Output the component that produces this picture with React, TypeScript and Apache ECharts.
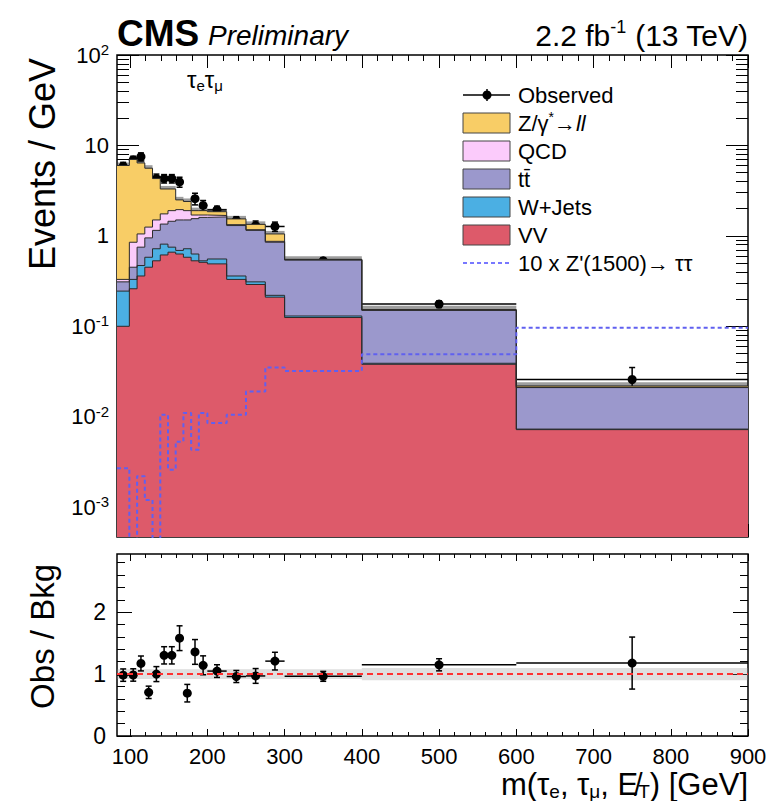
import React, { useEffect, useRef } from 'react';
import * as echarts from 'echarts';

const FONT = '"Liberation Sans", Arial, Helvetica, sans-serif';

// ---- data ----
const binEdges = [83, 99, 109, 119, 129, 139, 149, 159, 169, 179, 189, 200, 225, 250, 275, 300, 400, 600, 900];
const vv = [0.1, 0.26, 0.36, 0.45, 0.53, 0.615, 0.66, 0.63, 0.58, 0.53, 0.51, 0.49, 0.33, 0.29, 0.21, 0.125, 0.038, 0.0072];
const wjets = [0.145, 0.07, 0.11, 0.13, 0.19, 0.195, 0.09, 0.06, 0.14, 0.1, 0.02, 0.065, 0.03, 0.02, 0.01, 0.005, 0.001, 0.0001];
const ttbar = [0.065, 0.12, 0.28, 0.37, 0.43, 0.54, 0.7, 0.81, 0.78, 0.92, 1.07, 1.065, 0.94, 0.84, 0.63, 0.41, 0.111, 0.0137];
const qcd = [0.02, 0.4, 0.3, 0.3, 0.35, 0.4, 0.45, 0.45, 0.4, 0.15, 0.1, 0.06, 0.03, 0.02, 0.02, 0.005, 0.001, 0.0002];
const dyll = [5.67, 6.15, 5.35, 4.35, 2.8, 1.55, 1.4, 0.55, 0.5, 0.2, 0.2, 0.17, 0.21, 0.17, 0.18, 0.005, 0.002, 0.0007];
const observed = [5.9, 6.9, 7.5, 3.95, 4.3, 4.3, 4.3, 3.95, 1.66, 2.58, 2.17, 1.94, 1.48, 1.3, 1.27, 0.53, 0.176, 0.0258];
const observedErr = [0.6, 0.7, 0.77, 0.56, 0.52, 0.46, 0.46, 0.5, 0.34, 0.38, 0.29, 0.19, 0.15, 0.16, 0.15, 0.044, 0.015, 0.0092];
const signalZp = [0.0027, 0, 0.0022, 0.0012, 0, 0.0105, 0.0026, 0.0053, 0.011, 0.0043, 0.011, 0.0085, 0.0105, 0.019, 0.035, 0.032, 0.049, 0.0966];
const bkgRelUnc = [0.08, 0.08, 0.08, 0.08, 0.08, 0.08, 0.08, 0.08, 0.08, 0.08, 0.08, 0.08, 0.08, 0.08, 0.08, 0.08, 0.1, 0.1];
const refLine = [1, 1];

const xTickLabels = [100, 200, 300, 400, 500, 600, 700, 800, 900];
const logTickLabels = [-3, -2, -1, 0, 1, 2];
const ratioTickLabels = [0, 1, 2];

const X_MIN = 83;
const X_MAX = 900;
const LOG_MIN = -3.33;
const LOG_MAX = 2;
const R_MIN = 0;
const R_MAX = 2.94;

const COLORS = {
  dy: '#F8CD66',
  qcd: '#FBCBFB',
  tt: '#9B98CC',
  w: '#4BAFE3',
  vv: '#DD5A6A',
  sig: '#6060F0',
};

const lg = (v: number) => (v > 0 ? Math.log10(v) : -6);
const nBins = binEdges.length - 1;

function cumulative(...layers: number[][]) {
  return layers[0].map((_, i) => layers.reduce((s, l) => s + l[i], 0));
}
const cVV = cumulative(vv);
const cW = cumulative(vv, wjets);
const cTT = cumulative(vv, wjets, ttbar);
const cQCD = cumulative(vv, wjets, ttbar, qcd);
const total = cumulative(vv, wjets, ttbar, qcd, dyll);

const stepData = (vals: number[]) =>
  binEdges.map((e, i) => [e, lg(vals[Math.min(i, vals.length - 1)])]);

function areaSeries(name: string, vals: number[], color: string) {
  return {
    type: 'line',
    name,
    xAxisIndex: 0,
    yAxisIndex: 0,
    step: 'end',
    symbol: 'none',
    data: stepData(vals),
    lineStyle: { color: '#2a2a2a', width: 1 },
    areaStyle: { color, opacity: 1, origin: 'start' },
    clip: true,
    silent: true,
  };
}

const bandRender = (fill: string) => (params: any, api: any) => {
  const p0 = api.coord([api.value(0), api.value(3)]);
  const p1 = api.coord([api.value(1), api.value(2)]);
  return {
    type: 'rect',
    shape: { x: p0[0], y: p0[1], width: p1[0] - p0[0], height: p1[1] - p0[1] },
    style: { fill },
  };
};

const pointRender = (params: any, api: any) => {
  const pL = api.coord([api.value(0), api.value(3)]);
  const pR = api.coord([api.value(1), api.value(3)]);
  const pC = api.coord([api.value(2), api.value(3)]);
  const pLo = api.coord([api.value(2), api.value(4)]);
  const pHi = api.coord([api.value(2), api.value(5)]);
  const st = { stroke: '#000', lineWidth: 1.5 };
  return {
    type: 'group',
    children: [
      { type: 'line', shape: { x1: pL[0], y1: pL[1], x2: pR[0], y2: pR[1] }, style: st },
      { type: 'line', shape: { x1: pC[0], y1: pLo[1], x2: pC[0], y2: pHi[1] }, style: st },
      { type: 'line', shape: { x1: pC[0] - 3, y1: pLo[1], x2: pC[0] + 3, y2: pLo[1] }, style: st },
      { type: 'line', shape: { x1: pC[0] - 3, y1: pHi[1], x2: pC[0] + 3, y2: pHi[1] }, style: st },
      { type: 'circle', shape: { cx: pC[0], cy: pC[1], r: 4.5 }, style: { fill: '#000' } },
    ],
  };
};

const range = (a: number, b: number, step: number) => {
  const out: number[] = [];
  for (let v = a; v <= b + 1e-9; v += step) out.push(Math.round(v * 1000) / 1000);
  return out;
};

const xMinor = range(100, 900, 20);
const logMinor: number[] = [];
for (let d = -4; d <= 1; d++) for (let k = 2; k <= 9; k++) {
  const v = d + Math.log10(k);
  if (v > LOG_MIN && v < LOG_MAX) logMinor.push(v);
}
const ratioMinor = range(0.2, 2.8, 0.2);

function xAx(gridIndex: number, position: string, values: number[], length: number, label?: any) {
  return {
    type: 'value', gridIndex, position, min: X_MIN, max: X_MAX,
    axisLine: { show: false, onZero: false }, splitLine: { show: false },
    axisTick: { show: true, inside: true, length, customValues: values, lineStyle: { color: '#000', width: 1 } },
    axisLabel: label ? { ...label, customValues: xTickLabels } : { show: false },
  };
}
function yAx(gridIndex: number, position: string, min: number, max: number, values: number[], length: number, label?: any) {
  return {
    type: 'value', gridIndex, position, min, max,
    axisLine: { show: false, onZero: false }, splitLine: { show: false },
    axisTick: { show: true, inside: true, length, customValues: values, lineStyle: { color: '#000', width: 1 } },
    axisLabel: label ? label : { show: false },
  };
}

function buildOption() {
  const topLabel = {
    show: true,
    customValues: logTickLabels,
    margin: 8,
    color: '#000',
    fontFamily: FONT,
    formatter: (v: number) => (v === 0 ? '{b|1}' : v === 1 ? '{b|10}' : `{b|10}{s|${v}}`),
    rich: {
      b: { fontSize: 22, fontFamily: FONT, color: '#000', lineHeight: 26 },
      s: { fontSize: 15, fontFamily: FONT, color: '#000', lineHeight: 13, verticalAlign: 'top' },
    },
  };
  const ratioLabel = {
    show: true, customValues: ratioTickLabels, margin: 11, color: '#000', fontFamily: FONT, fontSize: 23,
  };
  const xLabel = { show: true, margin: 9, color: '#000', fontFamily: FONT, fontSize: 22 };

  const bandTop = binEdges.slice(0, nBins).map((e, i) => [
    e, binEdges[i + 1], lg(total[i] * (1 - bkgRelUnc[i])), lg(total[i] * (1 + bkgRelUnc[i])),
  ]);
  const bandRatio = binEdges.slice(0, nBins).map((e, i) => [e, binEdges[i + 1], 1 - bkgRelUnc[i], 1 + bkgRelUnc[i]]);
  const obsTop = observed.map((o, i) => [
    binEdges[i], binEdges[i + 1], (binEdges[i] + binEdges[i + 1]) / 2,
    lg(o), lg(o - observedErr[i]), lg(o + observedErr[i]),
  ]);
  const obsRatio = observed.map((o, i) => {
    const r = o / total[i];
    const re = observedErr[i] / total[i];
    return [binEdges[i], binEdges[i + 1], (binEdges[i] + binEdges[i + 1]) / 2, r, r - re, r + re];
  });

  const legendRows = [
    { y: 123, color: COLORS.dy, text: 'Z/γ{sup|*}→{it|ll}' },
    { y: 151, color: COLORS.qcd, text: 'QCD' },
    { y: 179, color: COLORS.tt, text: 'tt\u0304' },
    { y: 207, color: COLORS.w, text: 'W+Jets' },
    { y: 235, color: COLORS.vv, text: 'VV' },
  ];
  const legRich = {
    sup: { fontSize: 14, fontFamily: FONT, fill: '#000', lineHeight: 12, verticalAlign: 'top' },
    it: { fontSize: 22, fontFamily: FONT, fontStyle: 'italic', fill: '#000', lineHeight: 26 },
  };

  const graphic: any[] = [
    { type: 'text', x: 117, y: 33, style: { text: 'CMS', fontFamily: FONT, fontWeight: 'bold', fontSize: 37, fill: '#000', align: 'left', verticalAlign: 'middle' } },
    { type: 'text', x: 208, y: 35, style: { text: 'Preliminary', fontFamily: FONT, fontStyle: 'italic', fontSize: 28, fill: '#000', align: 'left', verticalAlign: 'middle' } },
    {
      type: 'text', x: 748, y: 35,
      style: {
        text: '2.2 fb{sup|-1} (13 TeV)', fontFamily: FONT, fontSize: 30, fill: '#000', align: 'right', verticalAlign: 'middle', lineHeight: 34,
        rich: { sup: { fontSize: 18, fontFamily: FONT, fill: '#000', lineHeight: 17, verticalAlign: 'top' } },
      },
    },
    {
      type: 'text', x: 187, y: 79,
      style: {
        text: 'τ{sub|e}τ{sub|μ}', fontFamily: FONT, fontSize: 24, fill: '#000', align: 'left', verticalAlign: 'middle', lineHeight: 28,
        rich: { sub: { fontSize: 15, fontFamily: FONT, fill: '#000', lineHeight: 12, verticalAlign: 'bottom' } },
      },
    },
    { type: 'text', x: 42, y: 58, rotation: Math.PI / 2, style: { text: 'Events / GeV', fontFamily: FONT, fontSize: 36, fill: '#000', align: 'right', verticalAlign: 'middle' } },
    { type: 'text', x: 42, y: 564, rotation: Math.PI / 2, style: { text: 'Obs / Bkg', fontFamily: FONT, fontSize: 33, fill: '#000', align: 'right', verticalAlign: 'middle' } },
    {
      type: 'text', x: 748, y: 784,
      style: {
        text: 'm(τ{sub|e}, τ{sub|μ}, E\u0338{sub|T}) [GeV]', fontFamily: FONT, fontSize: 31, fill: '#000', align: 'right', verticalAlign: 'middle', lineHeight: 34,
        rich: { sub: { fontSize: 19, fontFamily: FONT, fill: '#000', lineHeight: 15, verticalAlign: 'bottom' } },
      },
    },
    // legend: observed
    { type: 'line', shape: { x1: 463, y1: 95, x2: 510, y2: 95 }, style: { stroke: '#000', lineWidth: 1.5 } },
    { type: 'line', shape: { x1: 487, y1: 89, x2: 487, y2: 101 }, style: { stroke: '#000', lineWidth: 1.5 } },
    { type: 'circle', shape: { cx: 487, cy: 95, r: 4.5 }, style: { fill: '#000' } },
    { type: 'text', x: 518, y: 95, style: { text: 'Observed', fontFamily: FONT, fontSize: 22, fill: '#000', align: 'left', verticalAlign: 'middle' } },
    // legend: signal
    { type: 'line', shape: { x1: 463, y1: 263, x2: 510, y2: 263 }, style: { stroke: '#7878ff', lineWidth: 2, lineDash: [4, 3] } },
    { type: 'text', x: 518, y: 263, style: { text: "10 x Z'(1500)→ ττ", fontFamily: FONT, fontSize: 22, fill: '#000', align: 'left', verticalAlign: 'middle' } },
  ];
  legendRows.forEach((r) => {
    graphic.push({ type: 'rect', shape: { x: 463, y: r.y - 10, width: 47, height: 20 }, style: { fill: r.color, stroke: '#444', lineWidth: 1 } });
    graphic.push({
      type: 'text', x: 518, y: r.y,
      style: { text: r.text, fontFamily: FONT, fontSize: 22, fill: '#000', align: 'left', verticalAlign: 'middle', lineHeight: 26, rich: legRich },
    });
  });

  return {
    animation: false,
    backgroundColor: '#ffffff',
    grid: [
      { left: 117, right: 29, top: 55, height: 482, containLabel: false, outerBoundsMode: 'none', show: true, borderColor: '#000', borderWidth: 1.5, backgroundColor: 'transparent' },
      { left: 117, right: 29, top: 554, height: 182, containLabel: false, outerBoundsMode: 'none', show: true, borderColor: '#000', borderWidth: 1.5, backgroundColor: 'transparent' },
    ],
    xAxis: [
      xAx(0, 'bottom', xTickLabels, 13),
      xAx(0, 'bottom', xMinor, 6),
      xAx(0, 'top', xTickLabels, 13),
      xAx(0, 'top', xMinor, 6),
      xAx(1, 'bottom', xTickLabels, 7, xLabel),
      xAx(1, 'bottom', xMinor, 4),
      xAx(1, 'top', xTickLabels, 7),
      xAx(1, 'top', xMinor, 4),
    ],
    yAxis: [
      yAx(0, 'left', LOG_MIN, LOG_MAX, logTickLabels, 22, topLabel),
      yAx(0, 'left', LOG_MIN, LOG_MAX, logMinor, 12),
      yAx(0, 'right', LOG_MIN, LOG_MAX, logTickLabels, 22),
      yAx(0, 'right', LOG_MIN, LOG_MAX, logMinor, 12),
      yAx(1, 'left', R_MIN, R_MAX, ratioTickLabels, 15, ratioLabel),
      yAx(1, 'left', R_MIN, R_MAX, ratioMinor, 8),
      yAx(1, 'right', R_MIN, R_MAX, ratioTickLabels, 15),
      yAx(1, 'right', R_MIN, R_MAX, ratioMinor, 8),
    ],
    graphic,
    series: [
      areaSeries('Z/γ*→ll', total, COLORS.dy),
      areaSeries('QCD', cQCD, COLORS.qcd),
      areaSeries('tt', cTT, COLORS.tt),
      areaSeries('W+Jets', cW, COLORS.w),
      areaSeries('VV', cVV, COLORS.vv),
      {
        type: 'custom', name: 'bkg unc', xAxisIndex: 0, yAxisIndex: 0, clip: true, silent: true,
        renderItem: bandRender('rgba(40,40,40,0.45)'), encode: { x: [0, 1], y: [2, 3] }, data: bandTop,
      },
      {
        type: 'line', name: "10 x Z'(1500)", xAxisIndex: 0, yAxisIndex: 0, step: 'end', symbol: 'none', clip: true, silent: true,
        data: stepData(signalZp), lineStyle: { color: COLORS.sig, width: 2, type: [4, 3] },
      },
      {
        type: 'custom', name: 'Observed', xAxisIndex: 0, yAxisIndex: 0, clip: true, silent: true,
        renderItem: pointRender, encode: { x: [0, 1, 2], y: [3, 4, 5] }, data: obsTop,
      },
      {
        type: 'custom', name: 'ratio unc', xAxisIndex: 4, yAxisIndex: 4, clip: true, silent: true,
        renderItem: bandRender('rgba(150,150,150,0.3)'), encode: { x: [0, 1], y: [2, 3] }, data: bandRatio,
      },
      {
        type: 'line', name: 'ref', xAxisIndex: 4, yAxisIndex: 4, symbol: 'none', silent: true,
        data: [[X_MIN, refLine[0]], [X_MAX, refLine[1]]], lineStyle: { color: '#ff3030', width: 2, type: [6, 4] },
      },
      {
        type: 'custom', name: 'Obs/Bkg', xAxisIndex: 4, yAxisIndex: 4, clip: true, silent: true,
        renderItem: pointRender, encode: { x: [0, 1, 2], y: [3, 4, 5] }, data: obsRatio,
      },
    ],
  };
}

export default function App() {
  const ref = useRef<HTMLDivElement>(null);
  useEffect(() => {
    if (!ref.current) return;
    const chart = echarts.init(ref.current, undefined, { renderer: 'svg' });
    chart.setOption(buildOption() as any);
    return () => chart.dispose();
  }, []);
  return <div ref={ref} style={{ position: 'absolute', left: 0, top: 0, width: 777, height: 801 }} />;
}
